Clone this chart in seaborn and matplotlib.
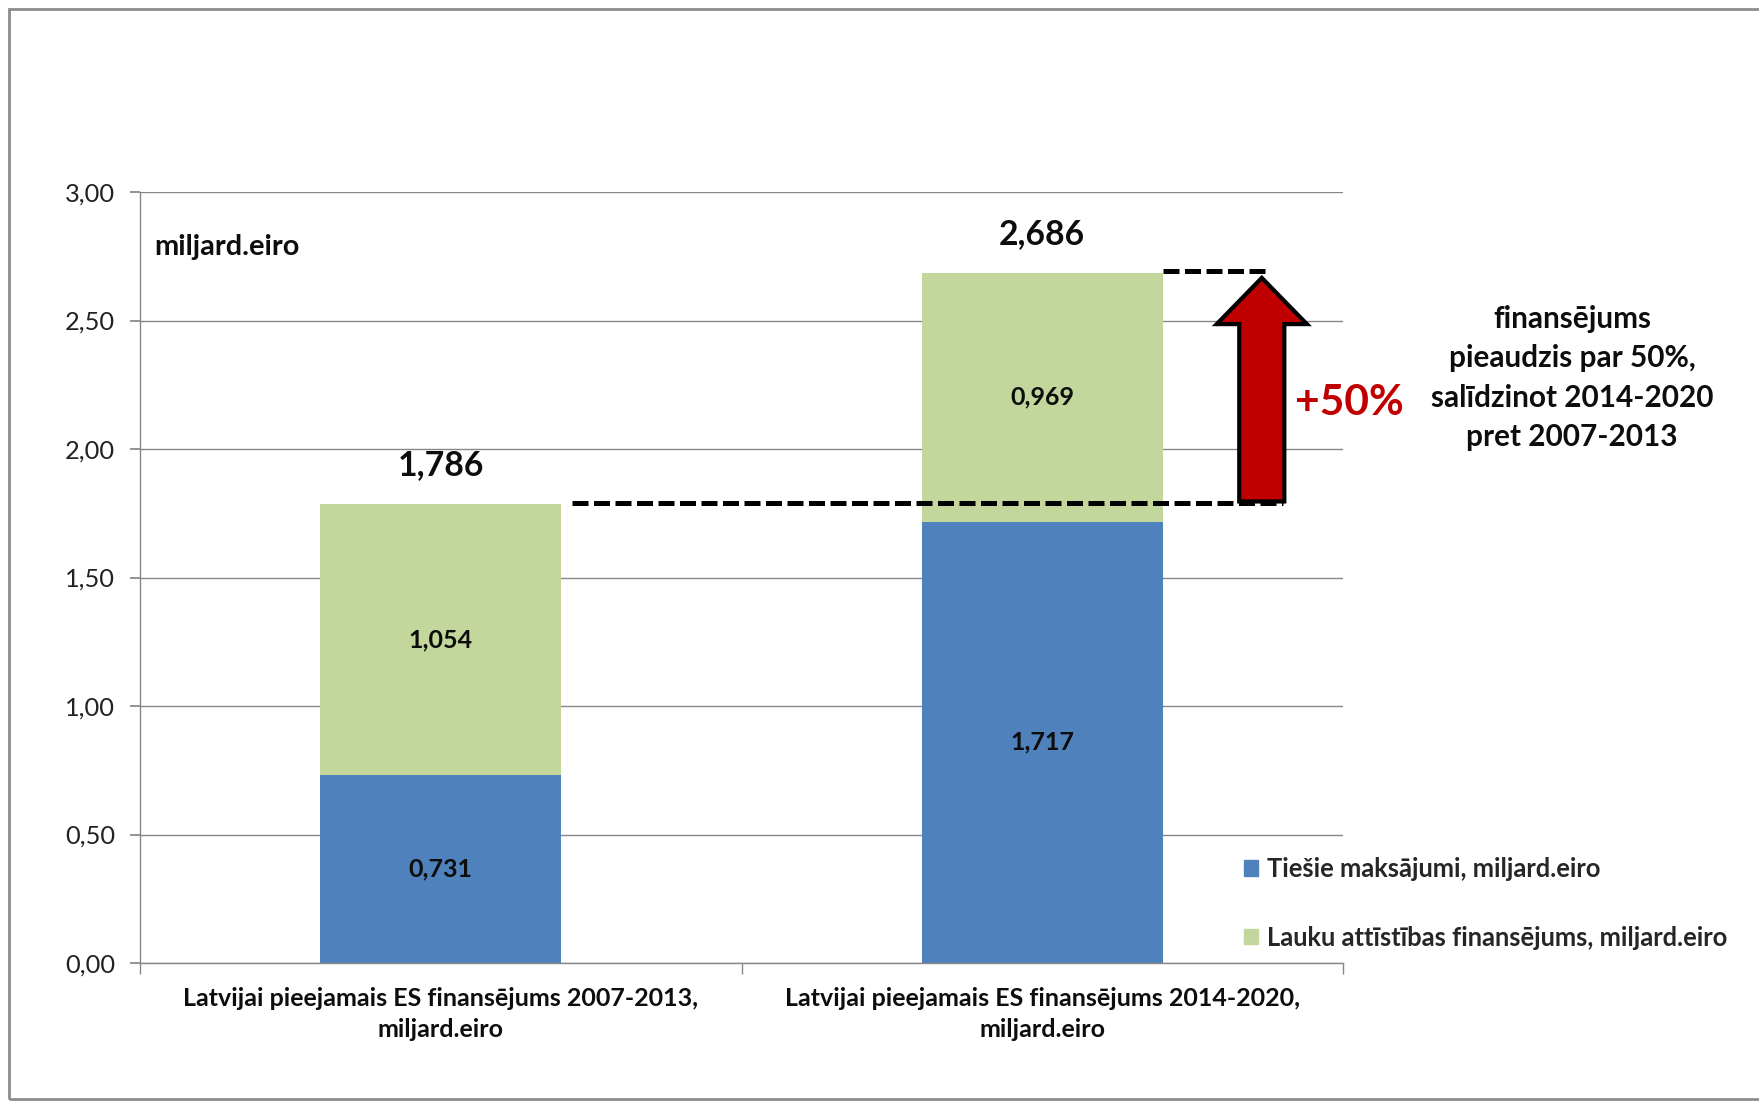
import matplotlib
matplotlib.use("Agg")
from matplotlib import pyplot as plt
from matplotlib.patches import FancyArrow, Rectangle, Patch
import pandas as pd
import seaborn as sns

categories = ["Latvijai pieejamais ES finansējums 2007-2013,\nmiljard.eiro",
              "Latvijai pieejamais ES finansējums 2014-2020,\nmiljard.eiro"]
direct_payments = [0.731, 1.717]
rural_dev = [1.054, 0.969]
totals = [1.786, 2.686]
series_names = ["Tiešie maksājumi, miljard.eiro",
                "Lauku attīstības finansējums, miljard.eiro"]
yticks = [0, 0.5, 1, 1.5, 2, 2.5, 3]
growth_label = "+50%"
note = "finansējums\npieaudzis par 50%,\nsalīdzinot 2014-2020\npret 2007-2013"
unit_label = "miljard.eiro"

BLUE = "#4F81BD"
GREEN = "#C3D69B"
RED = "#C00000"
GRID = "#878787"
TXT = "#0d0d0d"

def fmt(v, d=3):
    return f"{v:.{d}f}".replace(".", ",")

sns.set_theme(style="white")
plt.rcParams['font.family'] = ['Lato', 'DejaVu Sans']

fig = plt.figure(figsize=(17.59, 11.01), dpi=100)
ax = fig.add_axes([0.0796, 0.1253, 0.6839, 0.7003])

df = pd.DataFrame({"cat": categories, "direct": direct_payments,
                   "rural": rural_dev, "total": totals})

# stacked look: full total in green, direct payments in blue on top of it
sns.barplot(data=df, x="cat", y="total", color=GREEN, width=0.4,
            saturation=1, linewidth=0, ax=ax)
sns.barplot(data=df, x="cat", y="direct", color=BLUE, width=0.4,
            saturation=1, linewidth=0, ax=ax)

ax.set_xlim(-0.5, 1.5)
ax.set_ylim(0, 3)
ax.set_yticks(yticks)
ax.set_yticklabels([fmt(v, 2) for v in yticks], fontsize=18.3, color="#222222")
ax.set_xticklabels(categories, fontsize=18, fontweight="bold",
                   linespacing=1.45, color=TXT)
ax.set_xticks([-0.5, 0.5, 1.5], minor=True)
ax.set_xlabel("")
ax.set_ylabel("")

ax.yaxis.grid(True, color=GRID, lw=1)
ax.set_axisbelow(True)
for s in ["top", "right"]:
    ax.spines[s].set_visible(False)
for s in ["left", "bottom"]:
    ax.spines[s].set_color(GRID)
    ax.spines[s].set_linewidth(1)
ax.tick_params(axis="y", left=True, length=7, color=GRID, pad=11)
ax.tick_params(axis="x", which="major", bottom=True, length=0, pad=17)
ax.tick_params(axis="x", which="minor", bottom=True, length=8, color=GRID)

# value labels
for i in range(len(categories)):
    ax.text(i, direct_payments[i] / 2, fmt(direct_payments[i]), ha="center",
            va="center", fontsize=18, fontweight="bold", color=TXT)
    ax.text(i, direct_payments[i] + rural_dev[i] / 2, fmt(rural_dev[i]),
            ha="center", va="center", fontsize=18, fontweight="bold",
            color=TXT)
    ax.text(i, totals[i] + 0.15, fmt(totals[i]), ha="center", va="center",
            fontsize=24.3, fontweight="bold", color=TXT)

ax.text(0.012, 0.929, unit_label, transform=ax.transAxes, ha="left",
        va="center", fontsize=20.8, fontweight="bold", color=TXT)

# dashed guide lines and growth arrow
arrow_x = 1.365
ax.plot([0.218, 1.40], [totals[0] + 0.005] * 2, color="black", lw=3.6,
        ls=(0, (3.2, 1.1)), clip_on=False, zorder=4)
ax.plot([1.2, 1.37], [totals[1] + 0.005] * 2, color="black", lw=3.6,
        ls=(0, (3.2, 1.1)), clip_on=False, zorder=4)
ax.add_patch(FancyArrow(arrow_x, totals[0] + 0.01, 0,
                        totals[1] - totals[0] - 0.03, width=0.075,
                        head_width=0.15, head_length=0.18,
                        length_includes_head=True, fc=RED, ec="black",
                        lw=3, clip_on=False, zorder=5))
ax.text(1.511, 2.178, growth_label, ha="center", va="center", fontsize=30.6,
        fontweight="bold", color=RED, clip_on=False)

fig.text(1572 / 1759, 1 - 378 / 1101, note, ha="center", va="center",
         fontsize=21.4, fontweight="bold", linespacing=1.48, color=TXT)

handles = [Patch(color=BLUE, label=series_names[0]),
           Patch(color=GREEN, label=series_names[1])]
fig.legend(handles=handles, loc="upper left",
           bbox_to_anchor=(1244 / 1759, 1 - 857 / 1101), frameon=False,
           prop={"weight": "bold", "size": 18.4}, handlelength=0.55,
           handleheight=0.55, handletextpad=0.35, labelspacing=1.75,
           borderpad=0, borderaxespad=0)

# outer chart frame
fig.add_artist(Rectangle((9 / 1759, 2 / 1101), 1.2, 1 - 11 / 1101,
                         transform=fig.transFigure, fill=False,
                         ec="#8c8c8c", lw=2))

fig.savefig("out.png", dpi=100)
